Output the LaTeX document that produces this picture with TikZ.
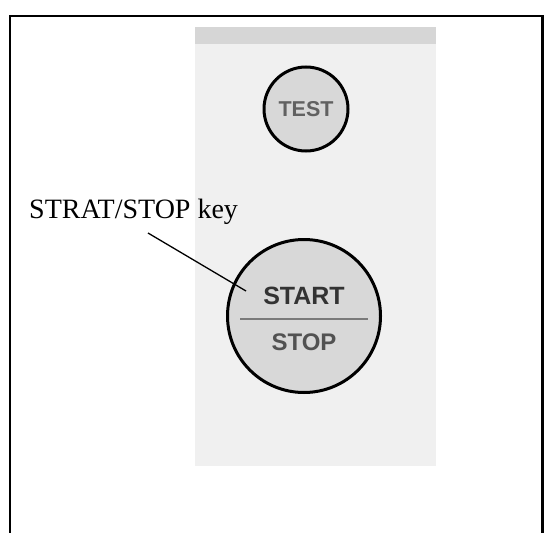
\documentclass[tikz,border=0pt]{standalone}
\usepackage{fontspec}
\setmainfont{Liberation Serif}
\newfontfamily\btnfont{Liberation Sans}
\definecolor{panel}{HTML}{F0F0F0}
\definecolor{strip}{HTML}{D6D6D6}
\definecolor{btnfill}{HTML}{D8D8D8}
\definecolor{btntext}{HTML}{3A3A3A}
\definecolor{divcol}{HTML}{7A7A7A}
\tikzset{
  btn/.style={circle, draw=black, line width=3pt, fill=btnfill, inner sep=0pt},
  btntxt/.style={font=\btnfont\bfseries, text=btntext, inner sep=0pt},
  lbl/.style={font=\fontsize{28}{32}\selectfont, inner sep=0pt},
}
\begin{document}
\begin{tikzpicture}[x=1pt,y=-1pt]
\useasboundingbox (0,0) rectangle (548,532);
% frame (bottom edge outside picture)
\draw[line width=2.2pt] (10,545) -- (10,16) -- (542.5,16) -- (542.5,545);
% panel
\fill[panel] (195,27) rectangle (436,466);
\fill[strip] (195,27) rectangle (436,44);
% TEST button
\node[btn, minimum size=84pt] (test) at (306,109) {};
\node[btntxt, font=\btnfont\bfseries\fontsize{21.5}{24}\selectfont, text=black!62] (testtxt) at (306,109) {TEST};
% START/STOP button
\node[btn, minimum size=153pt] (ss) at (304,316) {};
\draw[divcol, line width=1.6pt] (240,319) -- (368,319);
\node[btntxt, font=\btnfont\bfseries\fontsize{25}{28}\selectfont, text=black!80] (start) at (304,296) {START};
\node[btntxt, font=\btnfont\bfseries\fontsize{24}{28}\selectfont, text=black!68] (stop) at (304,342) {STOP};
% label and leader
\node[lbl, anchor=base west] (label) at (29,218) {STRAT/STOP key};
\coordinate (ls) at (148,233);
\coordinate (le) at (246,291);
\draw[line width=1.3pt] (ls) -- (le);
\end{tikzpicture}
\end{document}
